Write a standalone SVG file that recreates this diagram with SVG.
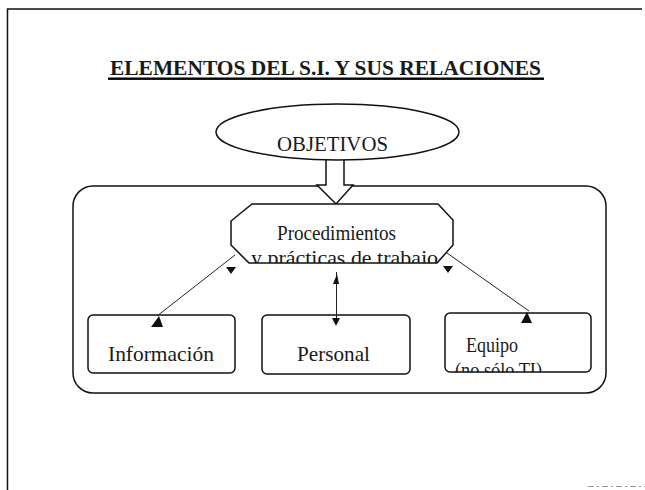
<svg xmlns="http://www.w3.org/2000/svg" width="645" height="490" viewBox="0 0 645 490">
<style>
.shape{fill:#fff;stroke:#111;stroke-width:1.5}
.t{font-family:"Liberation Serif","Times New Roman",serif;fill:#1a1a1a;font-size:21px}
.conn{stroke:#222;stroke-width:1;fill:none}
.head{fill:#111;stroke:none}
</style>
<defs>
<clipPath id="clipProc"><rect x="225" y="200" width="235" height="63"/></clipPath>
<clipPath id="clipEq"><rect x="440" y="310" width="160" height="62.5"/></clipPath>
</defs>
<rect width="645" height="490" fill="#fff"/>
<g id="page">
<path d="M7.5,490 V9 H642" fill="none" stroke="#111" stroke-width="1.5"/>
<line x1="588" y1="486.5" x2="645" y2="486.5" stroke="#999" stroke-width="1.2" stroke-dasharray="6 3 2 3"/>
</g>
<g id="title">
<text class="t" x="110" y="75" font-size="20" font-weight="bold" fill="#000" textLength="431" lengthAdjust="spacingAndGlyphs">ELEMENTOS DEL S.I. Y SUS RELACIONES</text>
<rect x="108" y="77.5" width="436" height="2.4" fill="#000"/>
</g>
<g id="sistema">
<rect class="shape" x="73" y="186" width="533" height="207" rx="20" ry="20"/>
</g>
<g id="objetivos">
<path class="shape" d="M326,152 V185 H317 L336,204 L353,185 H344 V152"/>
<ellipse class="shape" cx="337.5" cy="132" rx="121.5" ry="28"/>
<text class="t" x="277" y="151" textLength="111" lengthAdjust="spacingAndGlyphs">OBJETIVOS</text>
</g>
<g id="procedimientos">
<polygon class="shape" points="252,204 438,204 453,220 453,245 437,263 249,263 231,245 231,221"/>
<text class="t" x="277" y="240" font-size="19" textLength="119" lengthAdjust="spacingAndGlyphs">Procedimientos</text>
<text class="t" x="251" y="265" font-size="19" textLength="187" lengthAdjust="spacingAndGlyphs" clip-path="url(#clipProc)">y prácticas de trabajo</text>
</g>
<g id="informacion">
<rect class="shape" x="88" y="315" width="147" height="58" rx="5"/>
<text class="t" x="108" y="361" textLength="106" lengthAdjust="spacingAndGlyphs">Información</text>
</g>
<g id="personal">
<rect class="shape" x="262" y="315" width="148" height="59" rx="5"/>
<text class="t" x="297" y="361" textLength="73" lengthAdjust="spacingAndGlyphs">Personal</text>
</g>
<g id="equipo">
<rect class="shape" x="445" y="313" width="146" height="59" rx="5"/>
<text class="t" x="466" y="352" font-size="19" textLength="52" lengthAdjust="spacingAndGlyphs">Equipo</text>
<text class="t" x="455" y="377" font-size="19" textLength="87" lengthAdjust="spacingAndGlyphs" clip-path="url(#clipEq)">(no sólo TI)</text>
</g>
<g id="connectors">
<line class="conn" x1="235" y1="255" x2="157" y2="316"/>
<line class="conn" x1="336.5" y1="272" x2="336.5" y2="318"/>
<line class="conn" x1="447" y1="253" x2="529" y2="311"/>
<polygon class="head" points="151,327 159,316 163,327"/>
<polygon class="head" points="226,267 236,267 231,274"/>
<polygon class="head" points="332,318 340,318 336,326"/>
<polygon class="head" points="333,284 339,284 337,274"/>
<polygon class="head" points="443,266 453,266 448,273"/>
<polygon class="head" points="521,323 527,312 532,323"/>
</g>
</svg>
